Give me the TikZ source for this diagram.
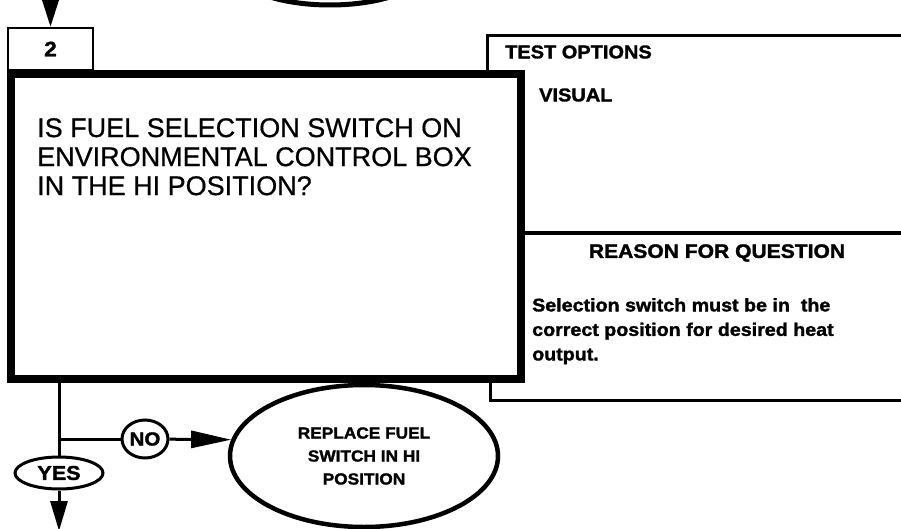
\documentclass[tikz,border=0pt]{standalone}
\usepackage{fontspec}
\setmainfont{Liberation Sans}[FakeBold=0.6]
\newfontfamily\heavy{Liberation Sans}[FakeStretch=1.08,BoldFeatures={FakeBold=1.6}]
\usetikzlibrary{arrows.meta,shapes.geometric}

\begin{document}
\begin{tikzpicture}[x=1pt,y=-1pt,
	box/.style={draw,rectangle,inner sep=0pt},
	oval/.style={draw,ellipse,inner sep=0pt,line width=3pt,font=\heavy\bfseries\fontsize{16}{23}\selectfont,align=center},
	label/.style={inner sep=0pt,font=\heavy\bfseries\fontsize{18.5}{24}\selectfont},
	flow/.style={line width=3pt},
	bigtip/.style={-{Triangle[length=#1,width=17pt]}}]

	\useasboundingbox (0,0) rectangle (901,529);
	\clip (0,0) rectangle (901,529);

	\node[draw,ellipse,line width=5pt,minimum width=200pt,minimum height=80pt] (prev) at (330,-35) {};
	\coordinate (entry) at (50.5,-5);
	\node[box,line width=2.5pt,minimum width=85pt,minimum height=42pt,font=\heavy\bfseries\fontsize{21}{21}\selectfont] (num) at (50.5,49) {2};
	\draw[flow,bigtip=28pt] (entry) -- (num.north);

	\node[box,line width=3pt,minimum width=463pt,minimum height=197pt] (options) at (718.5,134.5) {};
	\node[box,line width=3pt,minimum width=460pt,minimum height=167pt] (reason) at (720,316.5) {};
	\node[label,anchor=west] (optitle) at (505,52) {TEST OPTIONS};
	\node[label,anchor=west] (visual) at (539,95) {VISUAL};
	\node[label,font=\heavy\bfseries\fontsize{19.5}{24}\selectfont] (rtitle) at (717,253) {REASON FOR QUESTION};
	\node[inner sep=0pt,anchor=north west,align=left,font=\heavy\bfseries\fontsize{18.2}{24.5}\selectfont] (why) at (532,298)
		{Selection switch must be in\ \ the\\correct position for desired heat\\output.};

	\node[box,line width=8pt,fill=white,minimum width=510pt,minimum height=305pt] (question) at (266,226.5) {};
	\node[inner sep=0pt,anchor=north west,align=left,font=\fontsize{27}{29}\selectfont] (qtext) at (37,118)
		{IS FUEL SELECTION SWITCH ON\\ENVIRONMENTAL CONTROL BOX\\IN THE HI POSITION?};

	\node[oval,minimum width=88pt,minimum height=32pt,font=\heavy\bfseries\fontsize{20}{20}\selectfont] (yes) at (59,473) {YES};
	\node[oval,minimum width=46pt,minimum height=38pt,font=\heavy\bfseries\fontsize{19}{19}\selectfont] (no) at (145,439) {NO};
	\node[oval,line width=4.5pt,minimum width=268pt,minimum height=142pt] (fix) at (364,456) {REPLACE FUEL\\SWITCH IN HI\\POSITION};
	\coordinate (exit) at (59,531);

	\draw[flow] (question.south -| yes) -- (yes.north);
	\draw[flow] (yes.north |- no) -- (no);
	\draw[flow,bigtip=40pt] (no) -- (fix.173);
	\draw[flow,bigtip=30pt] (yes) -- (exit);
\end{tikzpicture}
\end{document}
